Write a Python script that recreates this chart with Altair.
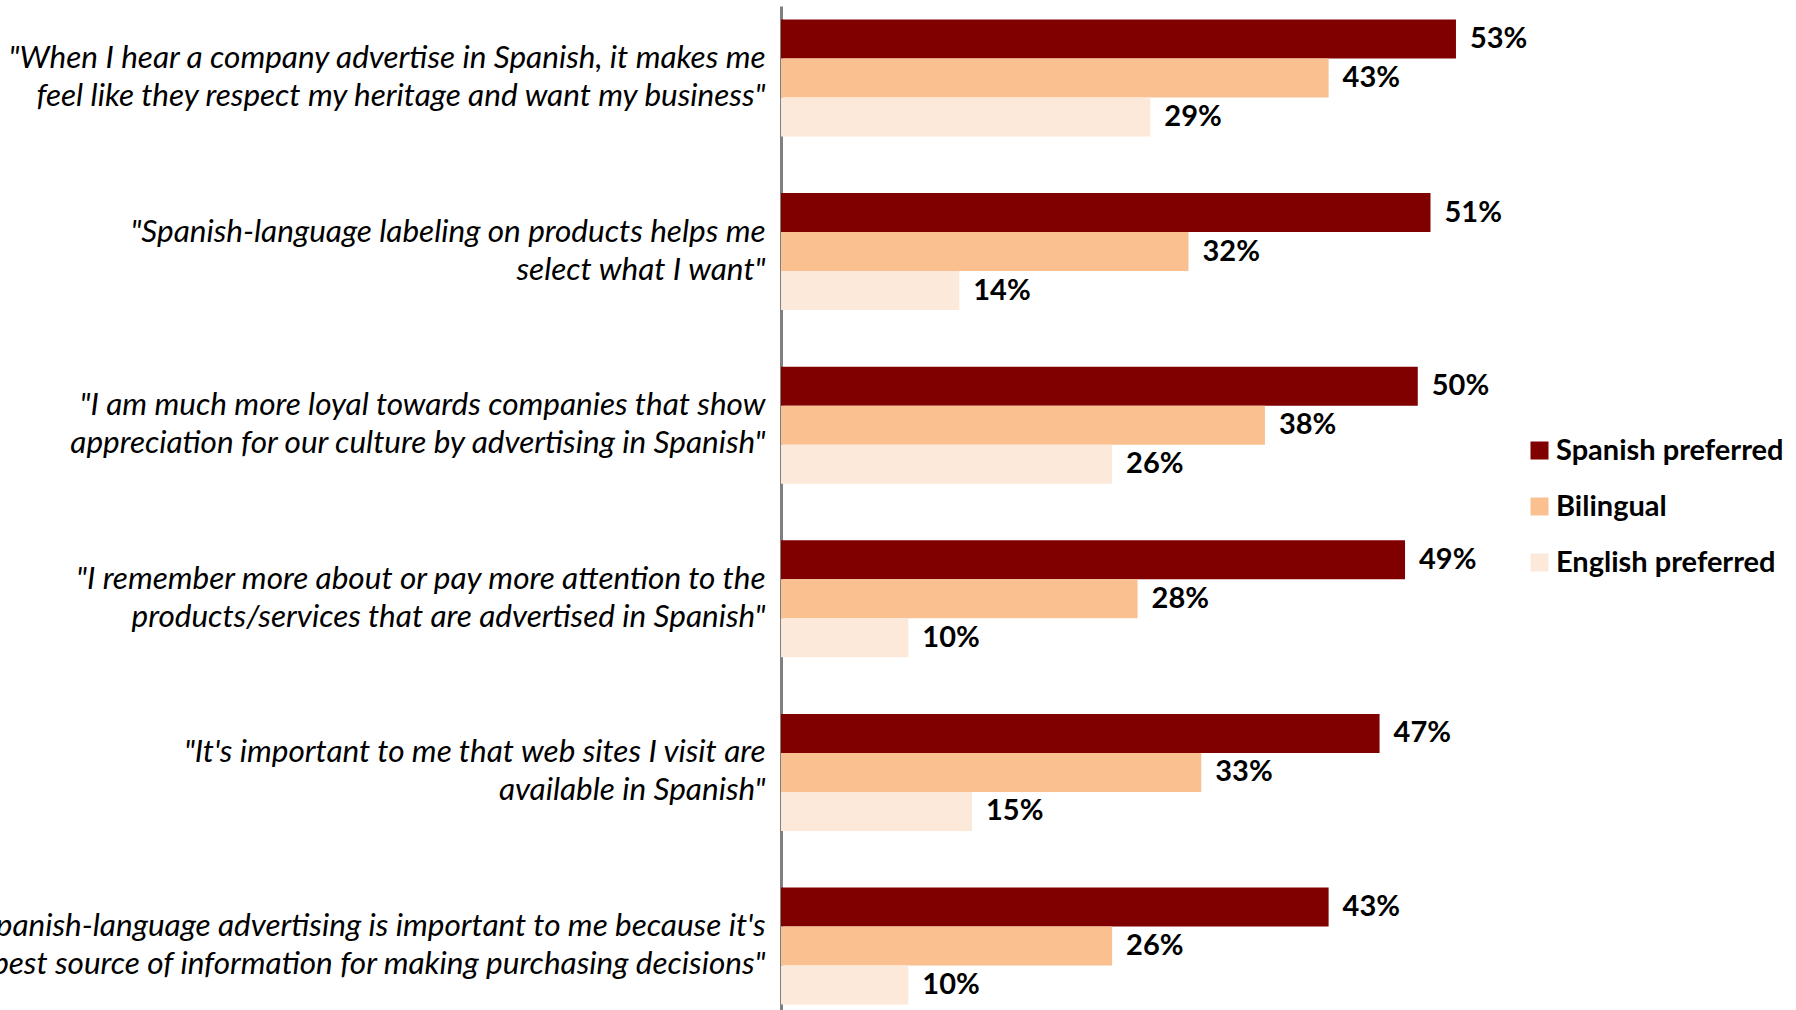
import altair as alt
import pandas as pd

statements = [
    "\"When I hear a company advertise in Spanish, it makes me|feel like they respect my heritage and want my business\"",
    "\"Spanish-language labeling on products helps me|select what I want\"",
    "\"I am much more loyal towards companies that show |appreciation for our culture by advertising in Spanish\"",
    "\"I remember more about or pay more attention to the|products/services that are advertised in Spanish\"",
    "\"It's important to me that web sites I visit are|available in Spanish\"",
    "\"Spanish-language advertising is important to me because it's|best source of information for making purchasing decisions\"",
]
series = ["Spanish preferred", "Bilingual", "English preferred"]
spanish_preferred = [53, 51, 50, 49, 47, 43]
bilingual = [43, 32, 38, 28, 33, 26]
english_preferred = [29, 14, 26, 10, 15, 10]
colors = ["#800000", "#FAC090", "#FDE9D9"]

rows = []
for s, vals in zip(series, [spanish_preferred, bilingual, english_preferred]):
    for st, v in zip(statements, vals):
        rows.append({"statement": st, "series": s, "value": v, "label": f"{v}%"})
df = pd.DataFrame(rows)

y_enc = alt.Y(
    "statement:N",
    sort=statements,
    title=None,
    scale=alt.Scale(paddingInner=0.326, paddingOuter=0.0546, align=0.71),
    axis=alt.Axis(
        domainColor="#808080",
        domainWidth=3,
        ticks=False,
        labelPadding=16,
        labelFont="Lato",
        labelFontStyle="italic",
        labelFontSize=31.5,
        labelColor="#000000",
        labelLimit=1200,
        labelLineHeight=38,
        labelOffset=-19,
        labelAlign="right",
        labelBaseline="middle",
        labelExpr="split(datum.label, '|')",
    ),
)
yoff = alt.YOffset("series:N", sort=series, scale=alt.Scale(paddingInner=0, paddingOuter=0))
x_enc = alt.X("value:Q", axis=None, scale=alt.Scale(domain=[0, 79.7], nice=False, zero=True))

bars = alt.Chart(df).mark_bar().encode(
    y=y_enc,
    yOffset=yoff,
    x=x_enc,
    color=alt.Color(
        "series:N",
        sort=series,
        scale=alt.Scale(domain=series, range=colors),
        legend=alt.Legend(
            title=None,
            orient="none",
            legendX=744,
            legendY=430,
            symbolType="square",
            symbolSize=324,
            symbolStrokeWidth=0,
            labelFont="Lato",
            labelFontSize=29,
            labelFontWeight="bold",
            labelColor="#000000",
            labelOffset=2,
            rowPadding=26,
            labelLimit=400,
        ),
    ),
)

texts = alt.Chart(df).mark_text(
    align="left", baseline="middle", dx=14, font="Lato", fontSize=29, fontWeight="bold", color="#000000"
).encode(
    y=alt.Y("statement:N", sort=statements),
    yOffset=yoff,
    x=x_enc,
    text="label:N",
)

chart = (
    alt.layer(bars, texts)
    .properties(
        width=1015,
        height=1004,
        autosize=alt.AutoSizeParams(type="none"),
        padding={"left": 781, "top": 6, "right": 0, "bottom": 0},
        background="#ffffff",
    )
    .configure_view(stroke=None)
)

chart.save("out.html", embed_options={"renderer": "svg", "actions": False})
